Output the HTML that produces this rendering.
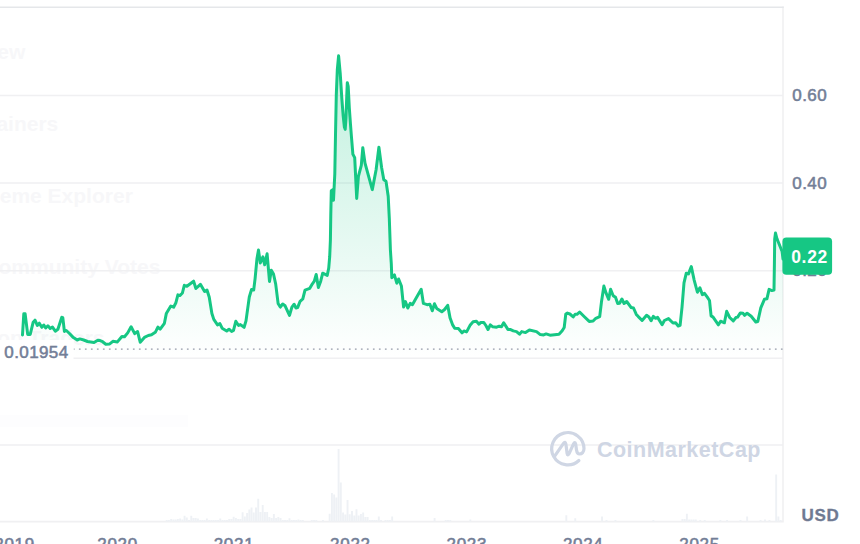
<!DOCTYPE html>
<html><head><meta charset="utf-8"><title>Chart</title>
<style>
html,body{margin:0;padding:0;background:#fff;}
body{width:860px;height:544px;overflow:hidden;font-family:"Liberation Sans",sans-serif;}
svg{display:block;}
text{font-family:"Liberation Sans",sans-serif;}
.ax{font-size:17px;fill:#737e97;stroke:#737e97;stroke-width:0.55px;letter-spacing:0.4px;}
.ghost{font-size:21px;font-weight:bold;fill:#f7f7f9;letter-spacing:0px;}
</style></head><body>
<svg width="860" height="544" viewBox="0 0 860 544">
<defs>
<linearGradient id="g" gradientUnits="userSpaceOnUse" x1="0" y1="7" x2="0" y2="358">
<stop offset="0" stop-color="#16c784" stop-opacity="0.32"/>
<stop offset="1" stop-color="#16c784" stop-opacity="0"/>
</linearGradient>
</defs>
<rect width="860" height="544" fill="#fff"/>
<!-- ghost menu text -->
<g class="ghost" text-anchor="end">
<text x="25.3" y="58.8">New</text>
<text x="58.3" y="130.6">Gainers</text>
<text x="132.8" y="202.6">Meme Explorer</text>
<text x="160.3" y="274.2">Community Votes</text>
<text x="104.5" y="345">Top Traders</text>
</g>
<rect x="0" y="415" width="188" height="12" fill="#fdfdfe"/>
<!-- grid -->
<g stroke="#f0f0f2" stroke-width="1.6" fill="none">
<path d="M0,95.5H783M0,183H783M0,270.8H783M0,358.3H783M0,445H783M0,521.6H783M783,6.6V522.4"/>
</g>
<path d="M0,7.3H783.8" stroke="#e5e7ea" stroke-width="1.5" fill="none"/>
<!-- volume -->
<path d="M165.75,521.5v-1.6h1.9v1.6zM167.98,521.5v-1.6h1.9v1.6zM170.21,521.5v-2.5h1.9v2.5zM172.45,521.5v-2.0h1.9v2.0zM174.68,521.5v-2.0h1.9v2.0zM176.91,521.5v-2.5h1.9v2.5zM179.14,521.5v-3.0h1.9v3.0zM181.38,521.5v-2.0h1.9v2.0zM183.61,521.5v-5.8h1.9v5.8zM185.84,521.5v-4.0h1.9v4.0zM188.07,521.5v-1.5h1.9v1.5zM190.31,521.5v-5.8h1.9v5.8zM192.54,521.5v-3.5h1.9v3.5zM194.77,521.5v-3.5h1.9v3.5zM197.00,521.5v-3.0h1.9v3.0zM199.24,521.5v-1.5h1.9v1.5zM201.47,521.5v-1.5h1.9v1.5zM203.70,521.5v-1.5h1.9v1.5zM205.93,521.5v-3.0h1.9v3.0zM208.17,521.5v-1.5h1.9v1.5zM210.40,521.5v-1.5h1.9v1.5zM212.63,521.5v-1.5h1.9v1.5zM214.86,521.5v-1.5h1.9v1.5zM217.10,521.5v-1.5h1.9v1.5zM219.33,521.5v-3.0h1.9v3.0zM221.56,521.5v-1.5h1.9v1.5zM223.79,521.5v-1.5h1.9v1.5zM226.03,521.5v-1.5h1.9v1.5zM228.26,521.5v-2.5h1.9v2.5zM230.49,521.5v-2.5h1.9v2.5zM232.72,521.5v-4.7h1.9v4.7zM234.96,521.5v-3.5h1.9v3.5zM237.19,521.5v-2.5h1.9v2.5zM239.42,521.5v-2.5h1.9v2.5zM241.65,521.5v-9.2h1.9v9.2zM243.89,521.5v-5.0h1.9v5.0zM246.12,521.5v-8.5h1.9v8.5zM248.35,521.5v-12.0h1.9v12.0zM250.58,521.5v-14.0h1.9v14.0zM252.82,521.5v-9.0h1.9v9.0zM255.05,521.5v-14.0h1.9v14.0zM257.28,521.5v-22.7h1.9v22.7zM259.51,521.5v-9.5h1.9v9.5zM261.75,521.5v-16.6h1.9v16.6zM263.98,521.5v-9.6h1.9v9.6zM266.21,521.5v-9.6h1.9v9.6zM268.44,521.5v-4.5h1.9v4.5zM270.68,521.5v-3.5h1.9v3.5zM272.91,521.5v-7.5h1.9v7.5zM275.14,521.5v-3.5h1.9v3.5zM277.37,521.5v-4.4h1.9v4.4zM279.61,521.5v-3.5h1.9v3.5zM281.84,521.5v-1.5h1.9v1.5zM284.07,521.5v-1.5h1.9v1.5zM286.30,521.5v-1.5h1.9v1.5zM288.54,521.5v-3.2h1.9v3.2zM290.77,521.5v-1.5h1.9v1.5zM293.00,521.5v-1.5h1.9v1.5zM295.23,521.5v-1.5h1.9v1.5zM297.47,521.5v-2.0h1.9v2.0zM299.70,521.5v-1.5h1.9v1.5zM301.93,521.5v-1.5h1.9v1.5zM310.86,521.5v-1.5h1.9v1.5zM313.09,521.5v-1.5h1.9v1.5zM315.33,521.5v-1.5h1.9v1.5zM322.02,521.5v-1.5h1.9v1.5zM328.72,521.5v-7.8h1.9v7.8zM330.95,521.5v-28.5h1.9v28.5zM333.19,521.5v-27.0h1.9v27.0zM335.42,521.5v-24.0h1.9v24.0zM337.65,521.5v-72.4h1.9v72.4zM339.88,521.5v-39.0h1.9v39.0zM342.12,521.5v-9.0h1.9v9.0zM344.35,521.5v-7.0h1.9v7.0zM346.58,521.5v-21.5h1.9v21.5zM348.81,521.5v-7.3h1.9v7.3zM351.05,521.5v-10.6h1.9v10.6zM353.28,521.5v-6.0h1.9v6.0zM355.51,521.5v-12.3h1.9v12.3zM357.74,521.5v-6.0h1.9v6.0zM359.98,521.5v-7.5h1.9v7.5zM362.21,521.5v-9.1h1.9v9.1zM364.44,521.5v-4.5h1.9v4.5zM366.67,521.5v-4.5h1.9v4.5zM368.91,521.5v-1.5h1.9v1.5zM371.14,521.5v-1.5h1.9v1.5zM373.37,521.5v-1.5h1.9v1.5zM375.60,521.5v-1.5h1.9v1.5zM377.84,521.5v-5.0h1.9v5.0zM380.07,521.5v-1.5h1.9v1.5zM384.53,521.5v-1.5h1.9v1.5zM386.77,521.5v-1.5h1.9v1.5zM389.00,521.5v-1.5h1.9v1.5zM391.23,521.5v-5.0h1.9v5.0zM433.65,521.5v-3.5h1.9v3.5zM444.81,521.5v-1.5h1.9v1.5zM447.04,521.5v-1.5h1.9v1.5zM449.28,521.5v-1.5h1.9v1.5zM469.37,521.5v-2.0h1.9v2.0zM565.37,521.5v-6.3h1.9v6.3zM574.29,521.5v-3.3h1.9v3.3zM601.09,521.5v-5.1h1.9v5.1zM605.55,521.5v-1.5h1.9v1.5zM614.48,521.5v-1.5h1.9v1.5zM652.43,521.5v-1.5h1.9v1.5zM681.45,521.5v-2.5h1.9v2.5zM683.69,521.5v-2.5h1.9v2.5zM685.92,521.5v-7.7h1.9v7.7zM688.15,521.5v-2.0h1.9v2.0zM690.38,521.5v-2.0h1.9v2.0zM692.62,521.5v-2.0h1.9v2.0zM694.85,521.5v-2.0h1.9v2.0zM699.31,521.5v-1.5h1.9v1.5zM703.78,521.5v-1.5h1.9v1.5zM719.41,521.5v-1.5h1.9v1.5zM726.11,521.5v-1.5h1.9v1.5zM739.50,521.5v-1.5h1.9v1.5zM746.20,521.5v-5.0h1.9v5.0zM759.59,521.5v-1.5h1.9v1.5zM764.06,521.5v-2.0h1.9v2.0zM768.52,521.5v-1.5h1.9v1.5zM775.22,521.5v-47.0h1.9v47.0zM777.45,521.5v-5.0h1.9v5.0zM779.68,521.5v-1.5h1.9v1.5z" fill="#eef1f5"/>
<!-- area -->
<path d="M22.5,335.0 L23.8,313.8 L25.1,313.8 L27.7,334.4 L30.2,334.4 L33.2,322.2 L35.0,320.2 L37.3,325.4 L39.3,323.2 L41.8,327.3 L43.8,325.0 L45.7,328.0 L47.9,325.8 L50.2,328.4 L52.5,327.1 L55.3,331.2 L57.9,329.3 L61.8,317.3 L62.8,317.7 L64.4,331.4 L66.3,330.5 L69.5,333.5 L73.4,337.6 L77.2,340.0 L79.8,338.9 L83.7,340.0 L87.5,341.5 L94.0,342.5 L97.8,340.2 L100.0,340.6 L102.6,341.7 L105.8,344.2 L109.7,343.9 L112.9,341.3 L117.4,341.9 L121.9,336.5 L124.5,336.8 L127.7,332.9 L131.1,326.7 L134.7,333.6 L137.6,331.6 L140.2,342.2 L144.4,337.4 L148.3,335.5 L151.5,334.8 L155.3,332.3 L157.9,327.1 L160.2,329.1 L164.4,323.3 L166.3,313.6 L170.8,306.1 L173.6,307.2 L175.9,302.7 L177.9,294.9 L179.8,295.6 L182.4,293.0 L184.3,285.3 L186.9,286.3 L193.6,281.2 L195.9,288.5 L200.4,284.3 L204.6,291.5 L207.0,290.0 L209.2,297.0 L211.9,313.5 L213.8,319.4 L217.5,324.9 L219.9,323.6 L222.1,328.2 L226.7,331.0 L229.0,329.2 L231.6,331.5 L233.5,330.4 L235.8,321.3 L238.6,325.5 L240.4,324.6 L244.1,327.3 L246.0,320.9 L249.3,297.0 L251.5,289.6 L253.7,290.0 L255.1,278.6 L257.0,258.4 L258.5,250.1 L260.3,263.0 L262.9,256.9 L264.7,264.8 L267.1,253.8 L269.5,281.4 L271.3,270.3 L273.5,274.0 L275.7,284.1 L278.1,303.4 L280.3,307.1 L282.7,304.0 L285.1,305.8 L289.5,315.4 L291.9,307.1 L294.1,304.3 L296.0,308.0 L297.6,307.6 L300.1,301.3 L302.8,298.9 L305.0,290.1 L309.8,288.3 L312.4,283.8 L314.3,281.2 L316.2,274.5 L318.4,287.4 L320.7,281.2 L322.7,273.2 L327.2,275.4 L328.7,268.3 L329.7,256.7 L330.4,240.0 L330.8,213.9 L331.3,190.7 L333.0,189.6 L333.5,200.2 L334.8,174.0 L335.5,135.0 L336.3,95.0 L337.3,70.0 L338.6,55.8 L340.2,73.1 L341.9,99.6 L343.2,116.2 L344.4,127.0 L345.2,129.4 L346.0,117.8 L346.8,94.7 L347.3,82.7 L348.2,86.4 L349.3,107.9 L350.5,124.5 L351.3,135.0 L352.9,154.3 L354.7,157.6 L356.7,198.4 L358.4,176.4 L361.3,165.3 L362.8,147.7 L365.0,163.1 L372.3,189.6 L376.1,169.7 L378.9,147.2 L381.6,167.5 L383.8,179.7 L386.0,181.2 L388.2,196.2 L389.3,218.3 L390.4,250.0 L391.3,263.9 L391.8,277.7 L394.4,274.9 L396.8,283.2 L398.6,279.0 L401.4,286.0 L403.6,307.1 L405.4,301.6 L407.8,308.0 L410.2,303.4 L412.4,304.7 L415.2,299.7 L421.2,289.3 L423.4,303.4 L427.1,304.7 L429.9,304.3 L432.3,310.8 L434.5,303.8 L436.7,308.4 L441.8,311.7 L444.6,309.5 L447.7,305.3 L450.1,318.1 L452.5,324.6 L454.7,328.2 L458.4,328.6 L462.0,332.8 L463.9,331.0 L466.6,331.9 L470.3,324.9 L473.1,321.8 L476.4,321.3 L479.0,324.2 L480.8,322.4 L483.7,322.4 L485.9,325.5 L488.0,329.5 L490.3,324.8 L492.8,326.8 L496.6,327.2 L499.2,326.2 L501.5,326.8 L503.7,322.7 L507.9,329.4 L510.1,329.4 L513.3,330.9 L516.5,331.6 L519.5,334.2 L521.7,331.6 L525.5,332.6 L529.4,330.0 L536.5,331.6 L540.3,334.6 L543.6,334.9 L546.1,333.9 L550.0,335.2 L559.0,334.3 L562.2,330.7 L564.2,327.5 L565.8,314.0 L567.4,313.1 L569.9,314.0 L573.2,316.9 L575.1,314.3 L577.0,314.3 L579.6,312.0 L584.1,316.5 L589.2,321.4 L593.1,321.0 L595.8,318.3 L599.7,316.6 L601.6,300.9 L603.9,286.1 L606.1,293.2 L608.7,299.3 L610.6,289.3 L613.2,295.7 L615.5,297.3 L617.7,303.5 L619.6,303.2 L621.9,299.0 L624.1,303.5 L626.7,301.5 L631.2,307.6 L633.5,308.0 L636.3,314.4 L638.3,316.6 L642.1,320.5 L646.6,315.3 L648.9,317.0 L651.1,320.8 L653.3,316.3 L655.6,318.3 L657.6,317.4 L662.1,324.7 L664.4,320.5 L668.5,318.6 L673.0,323.0 L675.6,322.8 L678.2,326.0 L680.1,325.3 L682.0,307.3 L684.0,282.9 L686.3,273.2 L688.5,273.9 L691.3,266.6 L694.1,279.8 L697.4,292.2 L699.9,287.7 L702.4,294.7 L704.5,293.4 L707.3,297.2 L709.5,300.5 L711.1,315.9 L713.1,317.1 L718.4,324.8 L720.6,321.2 L724.4,322.8 L726.7,311.3 L729.7,317.5 L733.3,320.9 L736.0,317.5 L737.6,317.1 L740.4,312.9 L742.9,313.2 L744.6,315.4 L747.1,313.2 L751.2,316.2 L755.8,322.0 L757.8,321.5 L760.8,307.9 L764.4,299.3 L766.9,298.8 L769.1,289.4 L771.9,290.6 L774.0,290.1 L774.4,264.1 L774.7,239.1 L775.5,233.0 L776.9,238.5 L779.9,246.0 L782.1,251.5 L783.0,259.0 L783,358.3 L22.5,358.3 Z" fill="url(#g)"/>
<path d="M22.5,335.0 L23.8,313.8 L25.1,313.8 L27.7,334.4 L30.2,334.4 L33.2,322.2 L35.0,320.2 L37.3,325.4 L39.3,323.2 L41.8,327.3 L43.8,325.0 L45.7,328.0 L47.9,325.8 L50.2,328.4 L52.5,327.1 L55.3,331.2 L57.9,329.3 L61.8,317.3 L62.8,317.7 L64.4,331.4 L66.3,330.5 L69.5,333.5 L73.4,337.6 L77.2,340.0 L79.8,338.9 L83.7,340.0 L87.5,341.5 L94.0,342.5 L97.8,340.2 L100.0,340.6 L102.6,341.7 L105.8,344.2 L109.7,343.9 L112.9,341.3 L117.4,341.9 L121.9,336.5 L124.5,336.8 L127.7,332.9 L131.1,326.7 L134.7,333.6 L137.6,331.6 L140.2,342.2 L144.4,337.4 L148.3,335.5 L151.5,334.8 L155.3,332.3 L157.9,327.1 L160.2,329.1 L164.4,323.3 L166.3,313.6 L170.8,306.1 L173.6,307.2 L175.9,302.7 L177.9,294.9 L179.8,295.6 L182.4,293.0 L184.3,285.3 L186.9,286.3 L193.6,281.2 L195.9,288.5 L200.4,284.3 L204.6,291.5 L207.0,290.0 L209.2,297.0 L211.9,313.5 L213.8,319.4 L217.5,324.9 L219.9,323.6 L222.1,328.2 L226.7,331.0 L229.0,329.2 L231.6,331.5 L233.5,330.4 L235.8,321.3 L238.6,325.5 L240.4,324.6 L244.1,327.3 L246.0,320.9 L249.3,297.0 L251.5,289.6 L253.7,290.0 L255.1,278.6 L257.0,258.4 L258.5,250.1 L260.3,263.0 L262.9,256.9 L264.7,264.8 L267.1,253.8 L269.5,281.4 L271.3,270.3 L273.5,274.0 L275.7,284.1 L278.1,303.4 L280.3,307.1 L282.7,304.0 L285.1,305.8 L289.5,315.4 L291.9,307.1 L294.1,304.3 L296.0,308.0 L297.6,307.6 L300.1,301.3 L302.8,298.9 L305.0,290.1 L309.8,288.3 L312.4,283.8 L314.3,281.2 L316.2,274.5 L318.4,287.4 L320.7,281.2 L322.7,273.2 L327.2,275.4 L328.7,268.3 L329.7,256.7 L330.4,240.0 L330.8,213.9 L331.3,190.7 L333.0,189.6 L333.5,200.2 L334.8,174.0 L335.5,135.0 L336.3,95.0 L337.3,70.0 L338.6,55.8 L340.2,73.1 L341.9,99.6 L343.2,116.2 L344.4,127.0 L345.2,129.4 L346.0,117.8 L346.8,94.7 L347.3,82.7 L348.2,86.4 L349.3,107.9 L350.5,124.5 L351.3,135.0 L352.9,154.3 L354.7,157.6 L356.7,198.4 L358.4,176.4 L361.3,165.3 L362.8,147.7 L365.0,163.1 L372.3,189.6 L376.1,169.7 L378.9,147.2 L381.6,167.5 L383.8,179.7 L386.0,181.2 L388.2,196.2 L389.3,218.3 L390.4,250.0 L391.3,263.9 L391.8,277.7 L394.4,274.9 L396.8,283.2 L398.6,279.0 L401.4,286.0 L403.6,307.1 L405.4,301.6 L407.8,308.0 L410.2,303.4 L412.4,304.7 L415.2,299.7 L421.2,289.3 L423.4,303.4 L427.1,304.7 L429.9,304.3 L432.3,310.8 L434.5,303.8 L436.7,308.4 L441.8,311.7 L444.6,309.5 L447.7,305.3 L450.1,318.1 L452.5,324.6 L454.7,328.2 L458.4,328.6 L462.0,332.8 L463.9,331.0 L466.6,331.9 L470.3,324.9 L473.1,321.8 L476.4,321.3 L479.0,324.2 L480.8,322.4 L483.7,322.4 L485.9,325.5 L488.0,329.5 L490.3,324.8 L492.8,326.8 L496.6,327.2 L499.2,326.2 L501.5,326.8 L503.7,322.7 L507.9,329.4 L510.1,329.4 L513.3,330.9 L516.5,331.6 L519.5,334.2 L521.7,331.6 L525.5,332.6 L529.4,330.0 L536.5,331.6 L540.3,334.6 L543.6,334.9 L546.1,333.9 L550.0,335.2 L559.0,334.3 L562.2,330.7 L564.2,327.5 L565.8,314.0 L567.4,313.1 L569.9,314.0 L573.2,316.9 L575.1,314.3 L577.0,314.3 L579.6,312.0 L584.1,316.5 L589.2,321.4 L593.1,321.0 L595.8,318.3 L599.7,316.6 L601.6,300.9 L603.9,286.1 L606.1,293.2 L608.7,299.3 L610.6,289.3 L613.2,295.7 L615.5,297.3 L617.7,303.5 L619.6,303.2 L621.9,299.0 L624.1,303.5 L626.7,301.5 L631.2,307.6 L633.5,308.0 L636.3,314.4 L638.3,316.6 L642.1,320.5 L646.6,315.3 L648.9,317.0 L651.1,320.8 L653.3,316.3 L655.6,318.3 L657.6,317.4 L662.1,324.7 L664.4,320.5 L668.5,318.6 L673.0,323.0 L675.6,322.8 L678.2,326.0 L680.1,325.3 L682.0,307.3 L684.0,282.9 L686.3,273.2 L688.5,273.9 L691.3,266.6 L694.1,279.8 L697.4,292.2 L699.9,287.7 L702.4,294.7 L704.5,293.4 L707.3,297.2 L709.5,300.5 L711.1,315.9 L713.1,317.1 L718.4,324.8 L720.6,321.2 L724.4,322.8 L726.7,311.3 L729.7,317.5 L733.3,320.9 L736.0,317.5 L737.6,317.1 L740.4,312.9 L742.9,313.2 L744.6,315.4 L747.1,313.2 L751.2,316.2 L755.8,322.0 L757.8,321.5 L760.8,307.9 L764.4,299.3 L766.9,298.8 L769.1,289.4 L771.9,290.6 L774.0,290.1 L774.4,264.1 L774.7,239.1 L775.5,233.0 L776.9,238.5 L779.9,246.0 L782.1,251.5 L783.0,259.0" fill="none" stroke="#16c784" stroke-width="3" stroke-linejoin="round" stroke-linecap="round"/>
<!-- dotted open price line -->
<rect x="0" y="340" width="73.5" height="21" fill="#fff"/>
<path d="M73.8,349.1H783" stroke="#959ba9" stroke-width="1.4" stroke-dasharray="1.7 4.3" stroke-dashoffset="-5.1" fill="none"/>
<text class="ax" x="4.3" y="357.8" style="letter-spacing:0.4px">0.01954</text>
<!-- y axis labels -->
<text class="ax" x="792.3" y="101">0.60</text>
<text class="ax" x="792.3" y="188.5">0.40</text>
<text class="ax" x="792.3" y="276.3">0.20</text>
<!-- badge -->
<rect x="782.4" y="237.4" width="49.7" height="37.3" rx="4" fill="#16c784"/>
<text x="791.2" y="263.1" font-size="17.5" font-weight="bold" fill="#fff" letter-spacing="0.7">0.22</text>
<!-- USD -->
<text x="801.4" y="521.1" font-size="17" font-weight="bold" fill="#6f7a92" stroke="#6f7a92" stroke-width="0.3" letter-spacing="0.75">USD</text>
<!-- x labels -->
<g class="ax" text-anchor="middle" style="letter-spacing:0.7px">
<text x="14.6" y="550.1">2019</text>
<text x="117.6" y="550.1">2020</text>
<text x="234" y="550.1">2021</text>
<text x="350.4" y="550.1">2022</text>
<text x="466.8" y="550.1">2023</text>
<text x="583.2" y="550.1">2024</text>
<text x="699.6" y="550.1">2025</text>
</g>
<!-- watermark -->
<g fill="none" stroke="#cfd6e4" stroke-width="3.2" stroke-linecap="round" stroke-linejoin="round">
<path d="M578.9,460.5 A16.15,16.15 0 1 1 584,448.6 C584,452.2 581.8,454.1 579.6,454 C577.4,453.9 576.8,452 576.5,450 L575.7,444.2 Q575,441 573.5,443.9 L569,453.8 Q567.5,456.3 567.1,453.6 L565.9,444 Q565.2,440.9 563.5,443.4 L554.5,456.3"/>
</g>
<text x="597" y="457.4" font-size="21.5" font-weight="bold" fill="#cfd6e4" letter-spacing="0.48">CoinMarketCap</text>
</svg>
</body></html>
